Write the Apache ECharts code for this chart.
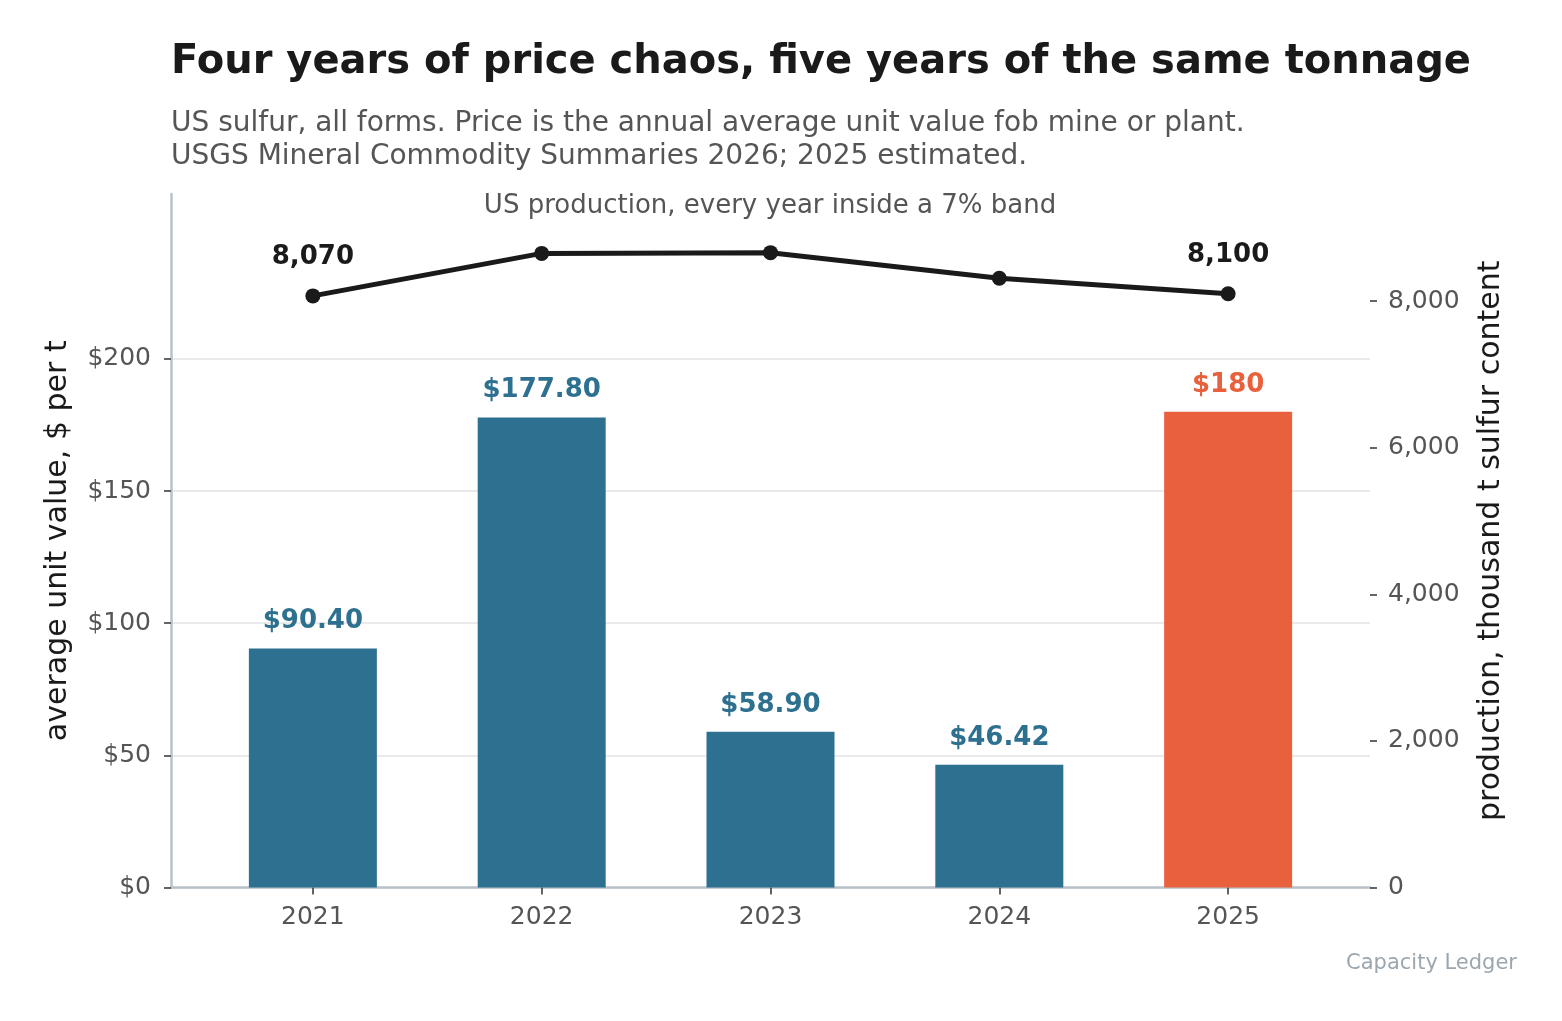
<!DOCTYPE html>
<html lang="en">
<head>
    <meta charset="UTF-8">
    <title>US sulfur: price vs production</title>
    <script src="https://cdn.jsdelivr.net/npm/echarts@6.0.0/dist/echarts.min.js"></script>
    <style>
        html, body { margin: 0; padding: 0; background: #fff; }
        #chart { width: 1562px; height: 1021px; }
    </style>
</head>
<body>
    <div id="chart"></div>
    <script>
        // data
        const years = [2021, 2022, 2023, 2024, 2025];
        const price = [90.40, 177.80, 58.90, 46.42, 180];
        const priceLabels = ['$90.40', '$177.80', '$58.90', '$46.42', '$180'];
        const production = [8070, 8650, 8660, 8310, 8100];
        const priceTicks = [0, 50, 100, 150, 200];
        const prodTicks = [0, 2000, 4000, 6000, 8000];

        const FONT = '"DejaVu Sans", Verdana, sans-serif';
        const BLUE = '#2e7090';
        const ORANGE = '#e8603c';
        const INK = '#1a1a1a';
        const GREY = '#555555';
        const SPINE = '#b8c1c9';

        const chart = echarts.init(document.getElementById('chart'));

        const barData = years.map((y, i) => ({
            value: [y, price[i]],
            itemStyle: { color: i === years.length - 1 ? ORANGE : BLUE },
            label: { color: i === years.length - 1 ? ORANGE : BLUE }
        }));

        const lineData = years.map((y, i) => ({
            value: [y, production[i]],
            label: { show: i === 0 || i === years.length - 1 }
        }));

        const option = {
            backgroundColor: '#ffffff',
            animation: false,
            textStyle: { fontFamily: FONT },
            grid: { left: 171, right: 192, top: 194, bottom: 133.5, containLabel: false },
            graphic: [
                {
                    type: 'text', left: 171, top: 43,
                    style: { text: 'Four years of price chaos, five years of the same tonnage',
                             font: 'bold 40px ' + FONT, fill: INK }
                },
                {
                    type: 'text', left: 171, top: 107,
                    style: { text: 'US sulfur, all forms. Price is the annual average unit value fob mine or plant.\nUSGS Mineral Commodity Summaries 2026; 2025 estimated.',
                             font: '28px ' + FONT, fill: GREY, lineHeight: 33 }
                },
                {
                    type: 'text', x: 770, y: 193,
                    style: { text: 'US production, every year inside a 7% band',
                             font: '26px ' + FONT, fill: GREY, align: 'center' }
                },
                {
                    type: 'text', x: 1517, y: 953,
                    style: { text: 'Capacity Ledger', font: '21px ' + FONT, fill: '#9ba6af', align: 'right' }
                }
            ],
            xAxis: {
                type: 'value',
                min: 2020.38,
                max: 2025.62,
                axisLine: { show: true, lineStyle: { color: SPINE, width: 2.5 } },
                axisTick: { show: true, customValues: years, length: 7, lineStyle: { color: '#333', width: 1.5 } },
                axisLabel: { customValues: years, formatter: v => String(v), fontSize: 25, color: GREY, margin: 17 },
                splitLine: { show: false }
            },
            yAxis: [
                {
                    type: 'value',
                    min: 0,
                    max: 262.4,
                    interval: 50,
                    name: 'average unit value, $ per t',
                    nameLocation: 'middle',
                    nameRotate: 90,
                    nameGap: 98,
                    nameTextStyle: { fontSize: 30, color: INK },
                    axisLine: { show: true, lineStyle: { color: SPINE, width: 2.5 } },
                    axisTick: { show: true, customValues: priceTicks, length: 7, lineStyle: { color: '#333', width: 1.5 } },
                    axisLabel: { customValues: priceTicks, formatter: v => '$' + v, fontSize: 25, color: GREY, margin: 20 },
                    splitLine: { show: true, lineStyle: { color: '#e3e3e3', width: 1.5 } }
                },
                {
                    type: 'value',
                    min: 0,
                    max: 9460,
                    position: 'right',
                    name: 'production, thousand t sulfur content',
                    nameLocation: 'middle',
                    nameRotate: 90,
                    nameGap: 106,
                    nameTextStyle: { fontSize: 30, color: INK },
                    axisLine: { show: false },
                    axisTick: { show: true, customValues: prodTicks, length: 7, lineStyle: { color: '#333', width: 1.5 } },
                    axisLabel: { customValues: prodTicks, fontSize: 25, color: GREY, margin: 18 },
                    splitLine: { show: false }
                }
            ],
            series: [
                {
                    type: 'bar',
                    yAxisIndex: 0,
                    barWidth: 128,
                    data: barData,
                    label: {
                        show: true,
                        position: 'top',
                        distance: 14,
                        fontSize: 26,
                        fontWeight: 'bold',
                        formatter: p => priceLabels[p.dataIndex]
                    },
                    z: 2
                },
                {
                    type: 'line',
                    yAxisIndex: 1,
                    data: lineData,
                    symbol: 'circle',
                    symbolSize: 15,
                    itemStyle: { color: INK },
                    lineStyle: { color: INK, width: 5 },
                    label: {
                        position: 'top',
                        distance: 18,
                        fontSize: 26,
                        fontWeight: 'bold',
                        color: INK,
                        formatter: p => p.value[1].toLocaleString('en-US')
                    },
                    z: 5
                }
            ]
        };

        chart.setOption(option);
    </script>
</body>
</html>
